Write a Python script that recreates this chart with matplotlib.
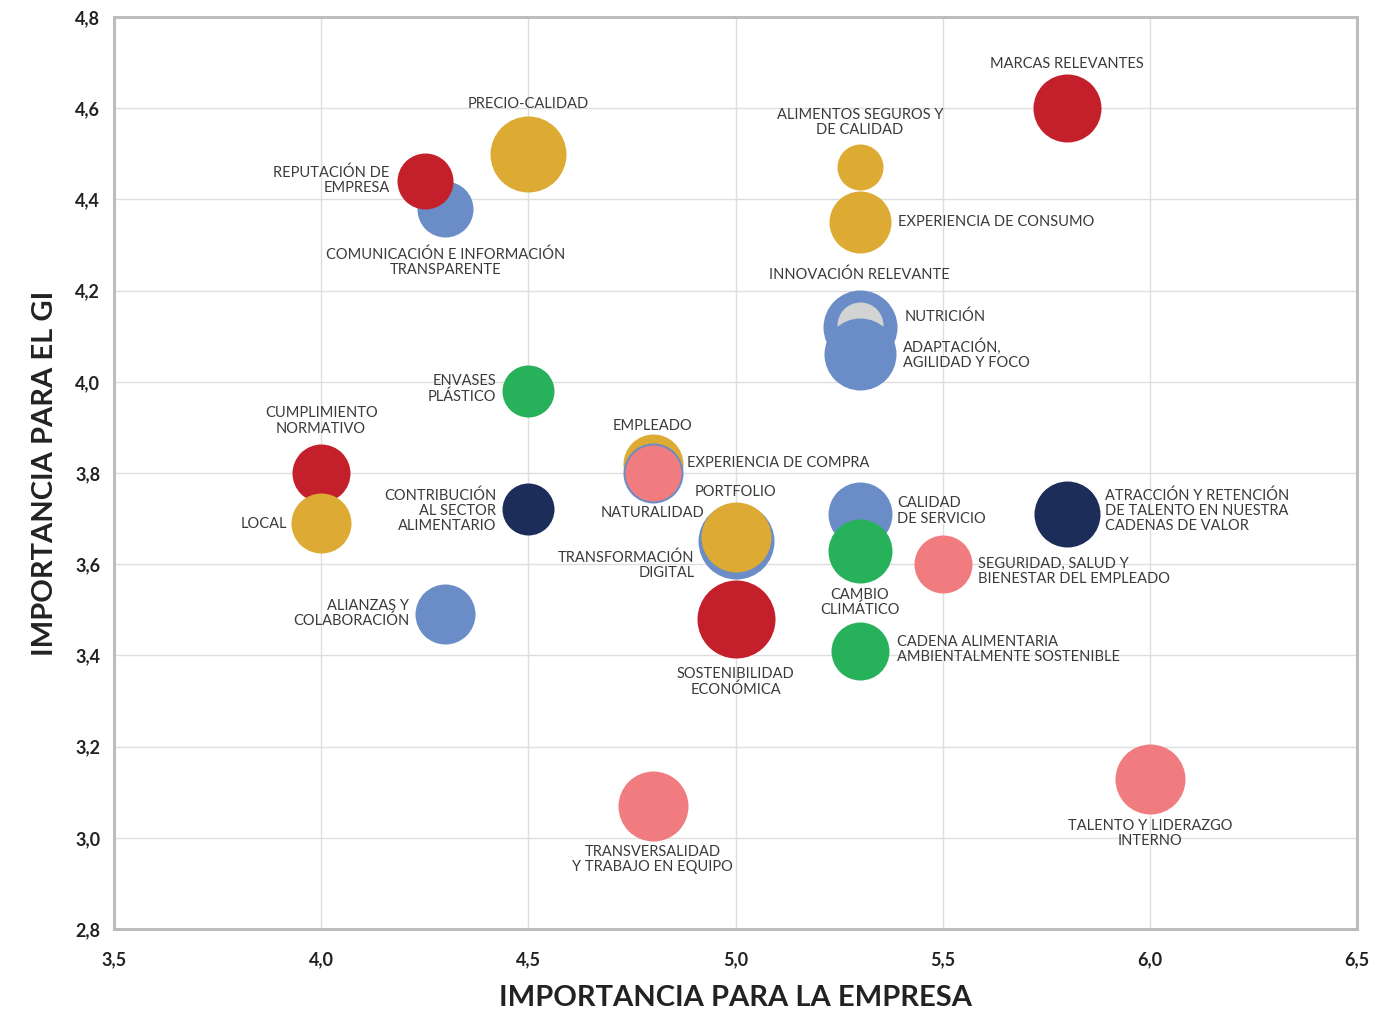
import matplotlib.pyplot as plt
from matplotlib.ticker import FuncFormatter

plt.rcParams['font.family'] = ['Lato', 'DejaVu Sans']

# --- data (drawing order = stacking order) ---
labels = ["MARCAS RELEVANTES", "PRECIO-CALIDAD", "COMUNICACIÓN E INFORMACIÓN\nTRANSPARENTE",
          "REPUTACIÓN DE\nEMPRESA", "ALIMENTOS SEGUROS Y\nDE CALIDAD", "EXPERIENCIA DE CONSUMO",
          "INNOVACIÓN RELEVANTE", "NUTRICIÓN", "ADAPTACIÓN,\nAGILIDAD Y FOCO",
          "ENVASES\nPLÁSTICO", "CUMPLIMIENTO\nNORMATIVO", "LOCAL",
          "CONTRIBUCIÓN\nAL SECTOR\nALIMENTARIO", "ALIANZAS Y\nCOLABORACIÓN",
          "EMPLEADO", "EXPERIENCIA DE COMPRA", "NATURALIDAD",
          "TRANSFORMACIÓN\nDIGITAL", "PORTFOLIO", "SOSTENIBILIDAD\nECONÓMICA",
          "CALIDAD\nDE SERVICIO", "CAMBIO\nCLIMÁTICO", "SEGURIDAD, SALUD Y\nBIENESTAR DEL EMPLEADO",
          "CADENA ALIMENTARIA\nAMBIENTALMENTE SOSTENIBLE",
          "ATRACCIÓN Y RETENCIÓN\nDE TALENTO EN NUESTRA\nCADENAS DE VALOR",
          "TALENTO Y LIDERAZGO\nINTERNO", "TRANSVERSALIDAD\nY TRABAJO EN EQUIPO"]
empresa = [5.80, 4.50, 4.30, 4.25, 5.30, 5.30, 5.30, 5.30, 5.30, 4.50, 4.00, 4.00, 4.50, 4.30,
           4.80, 4.80, 4.80, 5.00, 5.00, 5.00, 5.30, 5.30, 5.50, 5.30, 5.80, 6.00, 4.80]
gi = [4.60, 4.50, 4.38, 4.44, 4.47, 4.35, 4.12, 4.125, 4.06, 3.98, 3.80, 3.69, 3.72, 3.49,
      3.82, 3.80, 3.80, 3.65, 3.66, 3.48, 3.71, 3.63, 3.60, 3.41, 3.71, 3.13, 3.07]
diam = [68, 76, 56, 56, 46, 62, 74, 46, 72, 52, 58, 60, 52, 60,
        60, 60, 56, 76, 70, 78, 64, 64, 58, 58, 66, 70, 70]
group = ["red", "gold", "blue", "red", "gold", "gold", "blue", "gray", "blue", "green", "red", "gold",
         "navy", "blue", "gold", "blue", "pink", "blue", "gold", "red", "blue", "green", "pink",
         "green", "navy", "pink", "pink"]

colors = {"red": "#C4202B", "gold": "#DDAA33", "blue": "#6A8CC7", "green": "#27B15A",
          "pink": "#F07C80", "navy": "#1C2D5A", "gray": "#D2D3D3"}

# label offsets in pixels (dx, dy, ha)
label_pos = [(0, -44, "center"), (0, -50, "center"), (0, 54, "center"), (-35, -1, "right"),
             (0, -45, "center"), (38, 0, "left"), (0, -52, "center"), (45, -8, "left"),
             (43, 0, "left"), (-32, -2, "right"), (0, -52, "center"), (-34, 1, "right"),
             (-32, 1, "right"), (-36, -1, "right"), (0, -38, "center"), (34, -10, "left"),
             (52, 40, "right"), (-41, 24, "right"), (0, -45, "center"), (0, 63, "center"),
             (37, -3, "left"), (0, 52, "center"), (35, 7, "left"), (37, -1, "left"),
             (38, -3, "left"), (0, 55, "center"), (0, 54, "center")]

fig = plt.figure(figsize=(13.76, 10.14), dpi=100)
ax = fig.add_axes([114/1376, 1-929/1014, (1357-114)/1376, (929-17)/1014])

for i in range(len(labels)):
    s = (diam[i] * 0.72) ** 2
    ax.scatter(empresa[i], gi[i], s=s, color=colors[group[i]], linewidths=0, zorder=3+i)
    dx, dy, ha = label_pos[i]
    ax.annotate(labels[i], (empresa[i], gi[i]), xytext=(dx*0.72, -dy*0.72),
                textcoords='offset points', ha=ha, va='center', fontsize=10.5,
                color='#3a3a3a', linespacing=1.1, zorder=100)

ax.set_xlim(3.5, 6.5)
ax.set_ylim(2.8, 4.8)
ax.set_xticks([3.5, 4.0, 4.5, 5.0, 5.5, 6.0, 6.5])
ax.set_yticks([2.8, 3.0, 3.2, 3.4, 3.6, 3.8, 4.0, 4.2, 4.4, 4.6, 4.8])
fmt = FuncFormatter(lambda v, p: f"{v:.1f}".replace(".", ","))
ax.xaxis.set_major_formatter(fmt)
ax.yaxis.set_major_formatter(fmt)
ax.tick_params(length=0, labelsize=13, labelcolor='#222222')
ax.tick_params(axis='x', pad=16)
ax.tick_params(axis='y', pad=10)
for lab in ax.get_xticklabels() + ax.get_yticklabels():
    lab.set_fontweight('bold')
ax.grid(True, color='#DEDEDE', linewidth=1)
ax.set_axisbelow(True)
for sp in ax.spines.values():
    sp.set_color('#BDBDBF')
    sp.set_linewidth(2.2)

ax.set_xlabel("IMPORTANCIA PARA LA EMPRESA", fontsize=21, fontweight='bold', color='#222222', labelpad=12)
ax.set_ylabel("IMPORTANCIA PARA EL GI", fontsize=21, fontweight='bold', color='#222222', labelpad=12)

plt.savefig('out.png', dpi=100)
